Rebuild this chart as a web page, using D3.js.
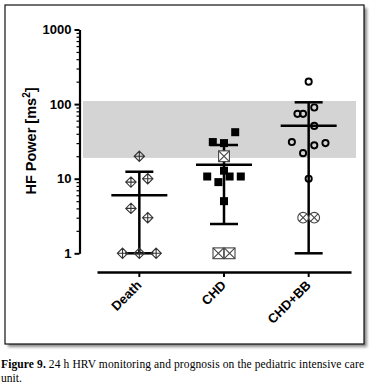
<!DOCTYPE html>
<html>
<head>
<meta charset="utf-8">
<script src="https://cdn.jsdelivr.net/npm/d3@7"></script>
<style>
  body { margin: 0; background: #fff; }
  svg { display: block; }
</style>
</head>
<body>
<div id="chart"></div>
<script>
// groups on the x axis
const categories = ["Death", "CHD", "CHD+BB"];

// y axis (log) tick labels
const majorTicks = [1, 10, 100, 1000];

// normal range band [low, high]
const normalRange = [19, 110];

// individual values per group, with the jitter slot of each point
const deathValues = [20, 10, 9, 4, 3, 1, 1, 1];
const deathSlots  = [0, 1.5, -1.5, -1.5, 1.5, -3, 0, 3];
const deathMarks  = ["diamond", "diamond", "diamond", "diamond", "diamond", "diamond", "diamond", "diamond"];

const chdValues = [42, 31, 30, 20, 12.8, 10.7, 10.7, 10.7, 9, 5, 1, 1];
const chdSlots  = [2, -2, 0, 0, 0, -3, 1, 3, -1, 0, -1, 1];
const chdMarks  = ["square", "square", "square", "xbox", "square", "square", "square", "square", "square", "square", "xbox", "xbox"];

const bbValues = [200, 90, 74, 74, 51, 31, 28, 30, 22, 10, 3, 3];
const bbSlots  = [0, 1, -2, -1, 1, -3, 1, 3, -1, 0, -1, 1];
const bbMarks  = ["circle", "circle", "circle", "circle", "circle", "circle", "circle", "circle", "circle", "circle", "xcircle", "xcircle"];

// mean and SD limits per group
const means  = [6.0, 15.4, 51.4];
const sdLow  = [1, 2.47, 1];
const sdHigh = [12.4, 28.3, 105.7];

const groups = [
    { values: deathValues, slots: deathSlots, marks: deathMarks },
    { values: chdValues, slots: chdSlots, marks: chdMarks },
    { values: bbValues, slots: bbSlots, marks: bbMarks }
];

const W = 372, H = 386;
const svg = d3.select("#chart").append("svg")
    .attr("width", W)
    .attr("height", H);

// frame with a soft shadow
const defs = svg.append("defs");
defs.append("filter").attr("id", "blur")
    .attr("x", "-5%").attr("y", "-5%").attr("width", "110%").attr("height", "110%")
  .append("feGaussianBlur").attr("stdDeviation", 1.6);

svg.append("rect")
    .attr("x", 8).attr("y", 8).attr("width", 359).attr("height", 339)
    .attr("fill", "#8a8a8a")
    .attr("filter", "url(#blur)");
svg.append("rect")
    .attr("x", 5).attr("y", 5).attr("width", 359).attr("height", 339)
    .attr("fill", "#fff")
    .attr("stroke", "#111")
    .attr("stroke-width", 1.2);

// scales
const y = d3.scaleLog().domain([1, 1000]).range([253.3, 29.5]);
const x = d3.scaleBand().domain(categories).range([97, 351]).padding(0);
const cx = c => x(c) + x.bandwidth() / 2;
const slotW = 5.6;

// grey normal range
svg.append("rect")
    .attr("x", 83).attr("width", 356 - 83)
    .attr("y", y(normalRange[1]))
    .attr("height", y(normalRange[0]) - y(normalRange[1]))
    .attr("fill", "#d4d4d4");

// y axis: minor ticks then major ticks
const minorTicks = [];
for (let d = 1; d < 1000; d *= 10) {
    for (let k = 2; k <= 9; k++) minorTicks.push(d * k);
}
svg.append("g")
    .attr("transform", "translate(79.5,0)")
    .call(d3.axisLeft(y).tickValues(minorTicks).tickSize(3).tickSizeOuter(0).tickFormat(""))
    .call(g => g.select(".domain").remove())
    .call(g => g.selectAll("line").attr("stroke", "#000").attr("stroke-width", 1.2));

const yAxis = svg.append("g")
    .attr("transform", "translate(79.5,0)")
    .call(d3.axisLeft(y).tickValues(majorTicks).tickSize(5).tickSizeOuter(0).tickFormat(d3.format("d")));
yAxis.select(".domain").attr("stroke", "#000").attr("stroke-width", 2.2);
yAxis.selectAll("line").attr("stroke", "#000").attr("stroke-width", 2);
yAxis.selectAll("text")
    .attr("x", -8)
    .style("font-family", "Liberation Sans, Arial, sans-serif")
    .style("font-weight", "bold")
    .style("font-size", "13px")
    .attr("fill", "#000");

// x axis
const xAxis = svg.append("g")
    .attr("transform", "translate(0,272)")
    .call(d3.axisBottom(x).tickSize(5).tickSizeOuter(0));
xAxis.select(".domain").attr("stroke", "#000").attr("stroke-width", 2.4);
xAxis.selectAll("line").attr("stroke", "#000").attr("stroke-width", 2);
xAxis.selectAll("text")
    .attr("y", 0).attr("dy", 0)
    .attr("transform", "translate(3,14) rotate(-45)")
    .style("text-anchor", "end")
    .style("font-family", "Liberation Sans, Arial, sans-serif")
    .style("font-weight", "bold")
    .style("font-size", "13px")
    .attr("fill", "#000");

// y axis title
const yTitle = svg.append("text")
    .attr("transform", "translate(36,141) rotate(-90)")
    .attr("text-anchor", "middle")
    .style("font-family", "Liberation Sans, Arial, sans-serif")
    .style("font-weight", "bold")
    .style("font-size", "14.5px")
    .attr("fill", "#000");
yTitle.append("tspan").text("HF Power [ms");
yTitle.append("tspan").attr("dy", -6).style("font-size", "10px").text("2");
yTitle.append("tspan").attr("dy", 6).text("]");

// mean and SD bars
const bars = svg.append("g").attr("stroke", "#000").attr("stroke-width", 2.5);
categories.forEach((c, i) => {
    const xc = cx(c);
    bars.append("line")
        .attr("x1", xc).attr("x2", xc)
        .attr("y1", y(sdHigh[i])).attr("y2", y(sdLow[i]));
    bars.append("line")
        .attr("x1", xc - 14).attr("x2", xc + 14)
        .attr("y1", y(sdHigh[i])).attr("y2", y(sdHigh[i]));
    bars.append("line")
        .attr("x1", xc - 14).attr("x2", xc + 14)
        .attr("y1", y(sdLow[i])).attr("y2", y(sdLow[i]));
    bars.append("line")
        .attr("x1", xc - 28).attr("x2", xc + 28)
        .attr("y1", y(means[i])).attr("y2", y(means[i]));
});

// individual points
const pts = svg.append("g");
groups.forEach((g, i) => {
    const xc = cx(categories[i]);
    g.values.forEach((v, j) => {
        const px = xc + g.slots[j] * slotW;
        const py = y(v);
        const m = g.marks[j];
        const p = pts.append("g").attr("transform", `translate(${px},${py})`);
        if (m === "diamond") {
            const s = 5.2;
            p.append("path")
                .attr("d", `M0,${-s}L${s},0L0,${s}L${-s},0Z M0,${-s}V${s} M${-s},0H${s}`)
                .attr("fill", "none").attr("stroke", "#333").attr("stroke-width", 1.1);
        } else if (m === "square") {
            p.append("rect")
                .attr("x", -4).attr("y", -4).attr("width", 8).attr("height", 8)
                .attr("fill", "#000");
        } else if (m === "xbox") {
            const s = 5.4;
            p.append("rect")
                .attr("x", -s).attr("y", -s).attr("width", 2 * s).attr("height", 2 * s)
                .attr("fill", "#fff").attr("stroke", "#444").attr("stroke-width", 1.1);
            p.append("path")
                .attr("d", `M${-s},${-s}L${s},${s}M${s},${-s}L${-s},${s}`)
                .attr("stroke", "#444").attr("stroke-width", 1.1);
        } else if (m === "circle") {
            p.append("circle").attr("r", 3.1)
                .attr("fill", "none").attr("stroke", "#000").attr("stroke-width", 1.9);
        } else if (m === "xcircle") {
            const r = 5.3;
            p.append("circle").attr("r", r)
                .attr("fill", "#fff").attr("stroke", "#444").attr("stroke-width", 1.1);
            const k = r * Math.SQRT1_2;
            p.append("path")
                .attr("d", `M${-k},${-k}L${k},${k}M${k},${-k}L${-k},${k}`)
                .attr("stroke", "#444").attr("stroke-width", 1.1);
        }
    });
});

// caption
const cap = svg.append("text")
    .attr("x", 1).attr("y", 367.5)
    .attr("textLength", 363)
    .attr("lengthAdjust", "spacing")
    .style("font-family", "Liberation Serif, Times New Roman, serif")
    .style("font-size", "11.5px")
    .attr("fill", "#000");
cap.append("tspan").style("font-weight", "bold").text("Figure 9.");
cap.append("tspan").text(" 24 h HRV monitoring and prognosis on the pediatric intensive care");
svg.append("text")
    .attr("x", 1).attr("y", 381.5)
    .style("font-family", "Liberation Serif, Times New Roman, serif")
    .style("font-size", "11.5px")
    .attr("fill", "#000")
    .text("unit.");
</script>
</body>
</html>
